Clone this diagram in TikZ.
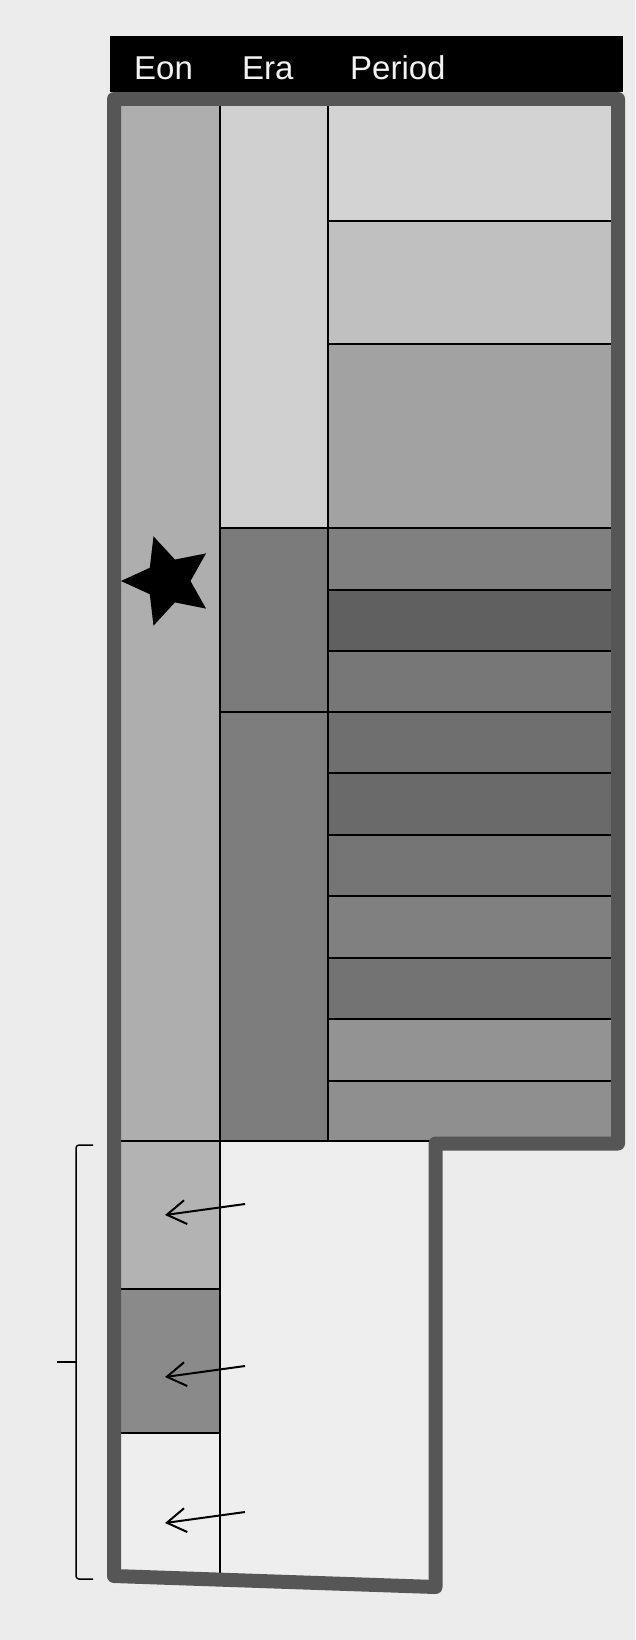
\documentclass[tikz,border=0pt]{standalone}
\usepackage{fontspec}
\setmainfont{Liberation Sans}
\usetikzlibrary{arrows.meta}
\definecolor{bg}{HTML}{ECECEC}
\definecolor{framegray}{HTML}{565656}
\definecolor{hdrtext}{HTML}{F2F2F2}
\definecolor{eonA}{HTML}{AEAEAE}
\definecolor{eonB}{HTML}{B3B3B3}
\definecolor{eonC}{HTML}{8A8A8A}
\definecolor{lowbg}{HTML}{EEEEEE}
\definecolor{eraA}{HTML}{D0D0D0}
\definecolor{eraB}{HTML}{7B7B7B}
\definecolor{eraC}{HTML}{7D7D7D}
\definecolor{pA}{HTML}{D3D3D3}
\definecolor{pB}{HTML}{C0C0C0}
\definecolor{pC}{HTML}{A2A2A2}
\definecolor{pD}{HTML}{808080}
\definecolor{pE}{HTML}{606060}
\definecolor{pF}{HTML}{777777}
\definecolor{pG}{HTML}{6F6F6F}
\definecolor{pH}{HTML}{6A6A6A}
\definecolor{pI}{HTML}{757575}
\definecolor{pJ}{HTML}{808080}
\definecolor{pK}{HTML}{737373}
\definecolor{pL}{HTML}{939393}
\definecolor{pM}{HTML}{8F8F8F}
\begin{document}
\begin{tikzpicture}[x=1pt,y=-1pt,
  hdr/.style={anchor=base west, inner sep=0pt, text=hdrtext, font=\fontsize{33}{40}\selectfont},
  cellline/.style={black, line width=2pt},
  frameline/.style={draw=framegray, line width=14pt, line join=round},
  arr/.style={line width=2pt, -{Straight Barb[length=19pt,width=24pt]}},
  bracket/.style={black, line width=1.5pt, line join=round, rounded corners=3pt}]
\fill[bg] (0,0) rectangle (635,1640);
\useasboundingbox (0,0) rectangle (635,1640);
% eon column
\fill[eonA] (114,99) rectangle (219.5,1141);
\fill[eonB] (114,1141) rectangle (219.5,1289);
\fill[eonC] (114,1289) rectangle (219.5,1433);
\fill[lowbg] (114,1433) rectangle (219.5,1585);
\fill[lowbg] (219.5,1141) rectangle (435.5,1590);
% era column
\fill[eraA] (219.5,99) rectangle (327.5,528);
\fill[eraB] (219.5,528) rectangle (327.5,712);
\fill[eraC] (219.5,712) rectangle (327.5,1141);
% periods
\foreach \ya/\yb/\c in {99/221/pA,221/344/pB,344/528/pC,528/590/pD,590/651/pE,651/712/pF,712/773/pG,773/835/pH,835/896/pI,896/958/pJ,958/1019/pK,1019/1081/pL,1081/1141/pM}
  \fill[\c] (327.5,\ya) rectangle (618,\yb);
% grid lines
\draw[cellline] (219.5,106) -- (219.5,1580);
\draw[cellline] (327.5,106) -- (327.5,1141);
\foreach \y in {221,344,590,651,773,835,896,958,1019,1081}
  \draw[cellline] (327.5,\y) -- (612,\y);
\foreach \y in {528,712}
  \draw[cellline] (219.5,\y) -- (612,\y);
\draw[cellline] (120,1141) -- (430,1141);
\foreach \y in {1289,1433}
  \draw[cellline] (120,\y) -- (219.5,\y);
% frame
\draw[frameline] (114,1576) -- (114,99) -- (618,99) -- (618,1143.5) -- (435.5,1143.5) -- (435.5,1587) -- cycle;
% header
\fill[black] (110,36) rectangle (623,92);
\node[hdr] (eon) at (134,80) {Eon};
\node[hdr] (era) at (242,80) {Era};
\node[hdr] (period) at (350,80) {Period};
% star (regular, one point to the left)
\fill[black, shift={(168,581)}] (180:47) -- (144:22.5) -- (108:47) -- (72:22.5)
  -- (36:47) -- (0:22.5) -- (-36:47) -- (-72:22.5) -- (-108:47) -- (-144:22.5) -- cycle;
% arrows
\coordinate (a1s) at (245,1204);
\coordinate (a1e) at (165,1215);
\coordinate (a2s) at (245,1366);
\coordinate (a2e) at (165,1377);
\coordinate (a3s) at (245,1512);
\coordinate (a3e) at (165,1523);
\draw[arr] (a1s) -- (a1e);
\draw[arr] (a2s) -- (a2e);
\draw[arr] (a3s) -- (a3e);
% bracket
\coordinate (bt) at (93,1145);
\coordinate (bb) at (93,1579);
\coordinate (bm) at (57,1362);
\draw[bracket] (bt) -- (76,1145) -- (76,1579) -- (bb);
\draw[black, line width=2.5pt] (76,1362) -- (bm);
\end{tikzpicture}
\end{document}
